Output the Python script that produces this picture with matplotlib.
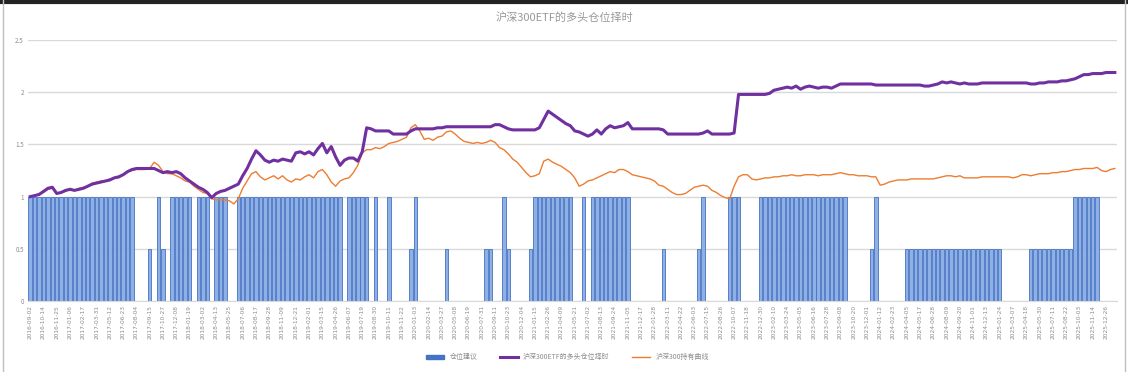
"""
沪深300ETF 多头仓位择时图
仓位建议 (柱) + 策略净值 + 持有净值 (线)
"""

import numpy as np
import pandas as pd
import matplotlib
matplotlib.use("Agg")
import matplotlib.pyplot as plt
from matplotlib.patches import Patch
from matplotlib.lines import Line2D

plt.rcParams["font.family"] = ["Noto Sans CJK SC", "DejaVu Sans"]

TITLE = "沪深300ETF的多头仓位择时"
LEGEND_LABELS = ["仓位建议", "沪深300ETF的多头仓位择时", "沪深300持有曲线"]
Y_TICKS = [0, 0.5, 1, 1.5, 2, 2.5]
Y_TICK_LABELS = ["0", "0.5", "1", "1.5", "2", "2.5"]

# 仓位建议: (仓位, 连续期数)
position_runs = [
    (1, 24), (0, 3), (0.5, 1), (0, 1), (1, 1), (0.5, 1), (0, 1), (1, 5),
    (0, 1), (1, 3), (0, 1), (1, 3), (0, 2), (1, 24), (0, 1), (1, 5),
    (0, 1), (1, 1), (0, 2), (1, 1), (0, 4), (0.5, 1), (1, 1), (0, 6),
    (0.5, 1), (0, 8), (0.5, 2), (0, 2), (1, 1), (0.5, 1), (0, 4), (0.5, 1),
    (1, 9), (0, 2), (1, 1), (0, 1), (1, 9), (0, 7), (0.5, 1), (0, 7),
    (0.5, 1), (1, 1), (0, 5), (1, 3), (0, 4), (1, 20), (0, 5), (0.5, 1),
    (1, 1), (0, 6), (0.5, 22), (0, 6), (0.5, 10), (1, 6), (0, 4),
]

# 多头仓位择时净值
strategy_nav = [
    1.00, 1.01, 1.02, 1.05, 1.08, 1.09, 1.03, 1.04, 1.06, 1.07,
    1.06, 1.07, 1.08, 1.10, 1.12, 1.13, 1.14, 1.15, 1.16, 1.18,
    1.19, 1.21, 1.24, 1.26, 1.27, 1.27, 1.27, 1.27, 1.27, 1.25,
    1.23, 1.24, 1.23, 1.24, 1.22, 1.18, 1.15, 1.12, 1.09, 1.07,
    1.04, 0.99, 1.03, 1.05, 1.06, 1.08, 1.10, 1.12, 1.20, 1.27,
    1.36, 1.44, 1.40, 1.35, 1.33, 1.35, 1.34, 1.36, 1.35, 1.34,
    1.42, 1.43, 1.41, 1.43, 1.40, 1.46, 1.51, 1.42, 1.48, 1.38,
    1.30, 1.35, 1.37, 1.37, 1.34, 1.43, 1.66, 1.65, 1.63, 1.63,
    1.63, 1.63, 1.60, 1.60, 1.60, 1.60, 1.63, 1.65, 1.65, 1.65,
    1.65, 1.65, 1.66, 1.66, 1.67, 1.67, 1.67, 1.67, 1.67, 1.67,
    1.67, 1.67, 1.67, 1.67, 1.67, 1.69, 1.69, 1.67, 1.65, 1.64,
    1.64, 1.64, 1.64, 1.64, 1.64, 1.66, 1.74, 1.82, 1.79, 1.76,
    1.73, 1.70, 1.68, 1.63, 1.62, 1.60, 1.58, 1.60, 1.64, 1.60,
    1.65, 1.68, 1.66, 1.67, 1.68, 1.71, 1.65, 1.65, 1.65, 1.65,
    1.65, 1.65, 1.65, 1.64, 1.60, 1.60, 1.60, 1.60, 1.60, 1.60,
    1.60, 1.60, 1.61, 1.63, 1.60, 1.60, 1.60, 1.60, 1.60, 1.61,
    1.98, 1.98, 1.98, 1.98, 1.98, 1.98, 1.98, 1.99, 2.02, 2.03,
    2.04, 2.05, 2.04, 2.06, 2.03, 2.05, 2.06, 2.05, 2.04, 2.05,
    2.05, 2.04, 2.06, 2.08, 2.08, 2.08, 2.08, 2.08, 2.08, 2.08,
    2.08, 2.07, 2.07, 2.07, 2.07, 2.07, 2.07, 2.07, 2.07, 2.07,
    2.07, 2.07, 2.06, 2.06, 2.07, 2.08, 2.10, 2.09, 2.10, 2.09,
    2.08, 2.09, 2.08, 2.08, 2.08, 2.09, 2.09, 2.09, 2.09, 2.09,
    2.09, 2.09, 2.09, 2.09, 2.09, 2.09, 2.08, 2.08, 2.09, 2.09,
    2.10, 2.10, 2.10, 2.11, 2.11, 2.12, 2.13, 2.15, 2.17, 2.17,
    2.18, 2.18, 2.18, 2.19, 2.19, 2.19,
]

# 沪深300持有净值
hold_nav = [
    1.00, 1.01, 1.03, 1.04, 1.07, 1.08, 1.03, 1.04, 1.05, 1.08,
    1.06, 1.08, 1.09, 1.10, 1.13, 1.14, 1.15, 1.15, 1.17, 1.18,
    1.18, 1.21, 1.24, 1.25, 1.26, 1.26, 1.26, 1.27, 1.33, 1.30,
    1.24, 1.22, 1.22, 1.20, 1.18, 1.15, 1.14, 1.10, 1.07, 1.04,
    1.03, 0.98, 0.97, 0.97, 0.97, 0.96, 0.93, 0.98, 1.08, 1.15,
    1.22, 1.24, 1.19, 1.16, 1.18, 1.20, 1.17, 1.20, 1.16, 1.14,
    1.17, 1.16, 1.19, 1.21, 1.18, 1.24, 1.26, 1.21, 1.14, 1.10,
    1.15, 1.17, 1.18, 1.23, 1.30, 1.42, 1.45, 1.45, 1.47, 1.46,
    1.48, 1.51, 1.52, 1.53, 1.55, 1.57, 1.66, 1.69, 1.63, 1.55,
    1.56, 1.54, 1.57, 1.58, 1.62, 1.63, 1.60, 1.56, 1.53, 1.52,
    1.51, 1.52, 1.51, 1.52, 1.54, 1.52, 1.47, 1.45, 1.41, 1.36,
    1.33, 1.28, 1.23, 1.19, 1.20, 1.22, 1.34, 1.36, 1.33, 1.31,
    1.29, 1.26, 1.23, 1.18, 1.10, 1.12, 1.15, 1.16, 1.18, 1.20,
    1.22, 1.24, 1.23, 1.26, 1.26, 1.24, 1.21, 1.20, 1.19, 1.18,
    1.17, 1.15, 1.11, 1.10, 1.07, 1.04, 1.02, 1.02, 1.03, 1.06,
    1.09, 1.10, 1.11, 1.10, 1.06, 1.04, 1.01, 0.99, 0.98, 1.10,
    1.19, 1.21, 1.21, 1.17, 1.16, 1.17, 1.18, 1.18, 1.19, 1.19,
    1.20, 1.20, 1.21, 1.20, 1.20, 1.21, 1.21, 1.21, 1.20, 1.21,
    1.21, 1.21, 1.22, 1.23, 1.22, 1.21, 1.21, 1.20, 1.20, 1.20,
    1.19, 1.19, 1.11, 1.12, 1.14, 1.15, 1.16, 1.16, 1.16, 1.17,
    1.17, 1.17, 1.17, 1.17, 1.17, 1.18, 1.19, 1.20, 1.20, 1.19,
    1.20, 1.18, 1.18, 1.18, 1.18, 1.19, 1.19, 1.19, 1.19, 1.19,
    1.19, 1.19, 1.18, 1.19, 1.21, 1.21, 1.20, 1.21, 1.22, 1.22,
    1.22, 1.23, 1.23, 1.24, 1.24, 1.25, 1.26, 1.26, 1.27, 1.27,
    1.27, 1.28, 1.25, 1.24, 1.26, 1.27,
]

# 日期轴 (每两周一期), 每 3 期显示一个标签
START_DATE = "2016-09-02"
LABEL_STEP = 3

BAR_FACE = "#8fb0e4"
BAR_EDGE = "#4472c4"
STRATEGY_COLOR = "#7030a0"
HOLD_COLOR = "#ed7d31"
GRID_COLOR = "#d9d9d9"
TEXT_COLOR = "#8c8c8c"


def expand_runs(runs: list[tuple]) -> np.ndarray:
    """(值, 次数) 列表展开成逐期序列"""
    return np.concatenate([np.full(n, v, dtype=float) for v, n in runs])


def plot_timing_chart(position, strategy, hold, dates) -> plt.Figure:
    fig = plt.figure(figsize=(11.28, 3.72), dpi=100)
    ax = fig.add_axes([0.0248, 0.191, 0.9655, 0.701])

    x = np.arange(len(dates))
    ax.bar(x, position, width=0.78, color=BAR_FACE, edgecolor=BAR_EDGE,
           linewidth=0.6, zorder=2)
    ax.plot(x, strategy, color=STRATEGY_COLOR, linewidth=2.2, zorder=4)
    ax.plot(x, hold, color=HOLD_COLOR, linewidth=1.0, zorder=3)

    ax.set_xlim(-0.5, len(dates) - 0.5)
    ax.set_ylim(0, 2.5)
    ax.set_yticks(Y_TICKS)
    ax.set_yticklabels(Y_TICK_LABELS, fontsize=4.5, color=TEXT_COLOR)
    ax.yaxis.grid(True, color=GRID_COLOR, linewidth=1.0, zorder=0)
    ax.set_axisbelow(True)

    tick_pos = x[::LABEL_STEP]
    ax.set_xticks(tick_pos)
    ax.set_xticklabels([dates[i] for i in tick_pos], rotation=90,
                       fontsize=4.2, color=TEXT_COLOR, family="DejaVu Sans")
    ax.tick_params(axis="both", length=0, pad=3)
    for side in ["top", "right", "left"]:
        ax.spines[side].set_visible(False)
    ax.spines["bottom"].set_color(GRID_COLOR)

    fig.text(0.5, 0.952, TITLE, ha="center", va="center",
             fontsize=8, color="#999999")

    handles = [
        Patch(facecolor=BAR_EDGE, edgecolor=BAR_EDGE),
        Line2D([], [], color=STRATEGY_COLOR, linewidth=2.2),
        Line2D([], [], color=HOLD_COLOR, linewidth=1.0),
    ]
    fig.legend(handles, LEGEND_LABELS, loc="center", ncol=3,
               bbox_to_anchor=(0.503, 0.04), frameon=False, fontsize=5,
               labelcolor=TEXT_COLOR, handlelength=2.6, handleheight=0.5,
               columnspacing=3.2)

    # 外框
    fig.add_artist(Line2D([0, 1], [0.995, 0.995], transform=fig.transFigure,
                          color="#222222", linewidth=3))
    fig.add_artist(Line2D([0.003, 0.003], [0, 1], transform=fig.transFigure,
                          color="#bfbfbf", linewidth=1))
    fig.add_artist(Line2D([0.997, 0.997], [0, 1], transform=fig.transFigure,
                          color="#bfbfbf", linewidth=1))
    return fig


position = expand_runs(position_runs)
n = len(strategy_nav)
position = position[:n]
dates = pd.date_range(START_DATE, periods=n, freq="14D").strftime("%Y-%m-%d").tolist()

fig = plot_timing_chart(position, strategy_nav, hold_nav, dates)
fig.savefig("out.png", dpi=100)
